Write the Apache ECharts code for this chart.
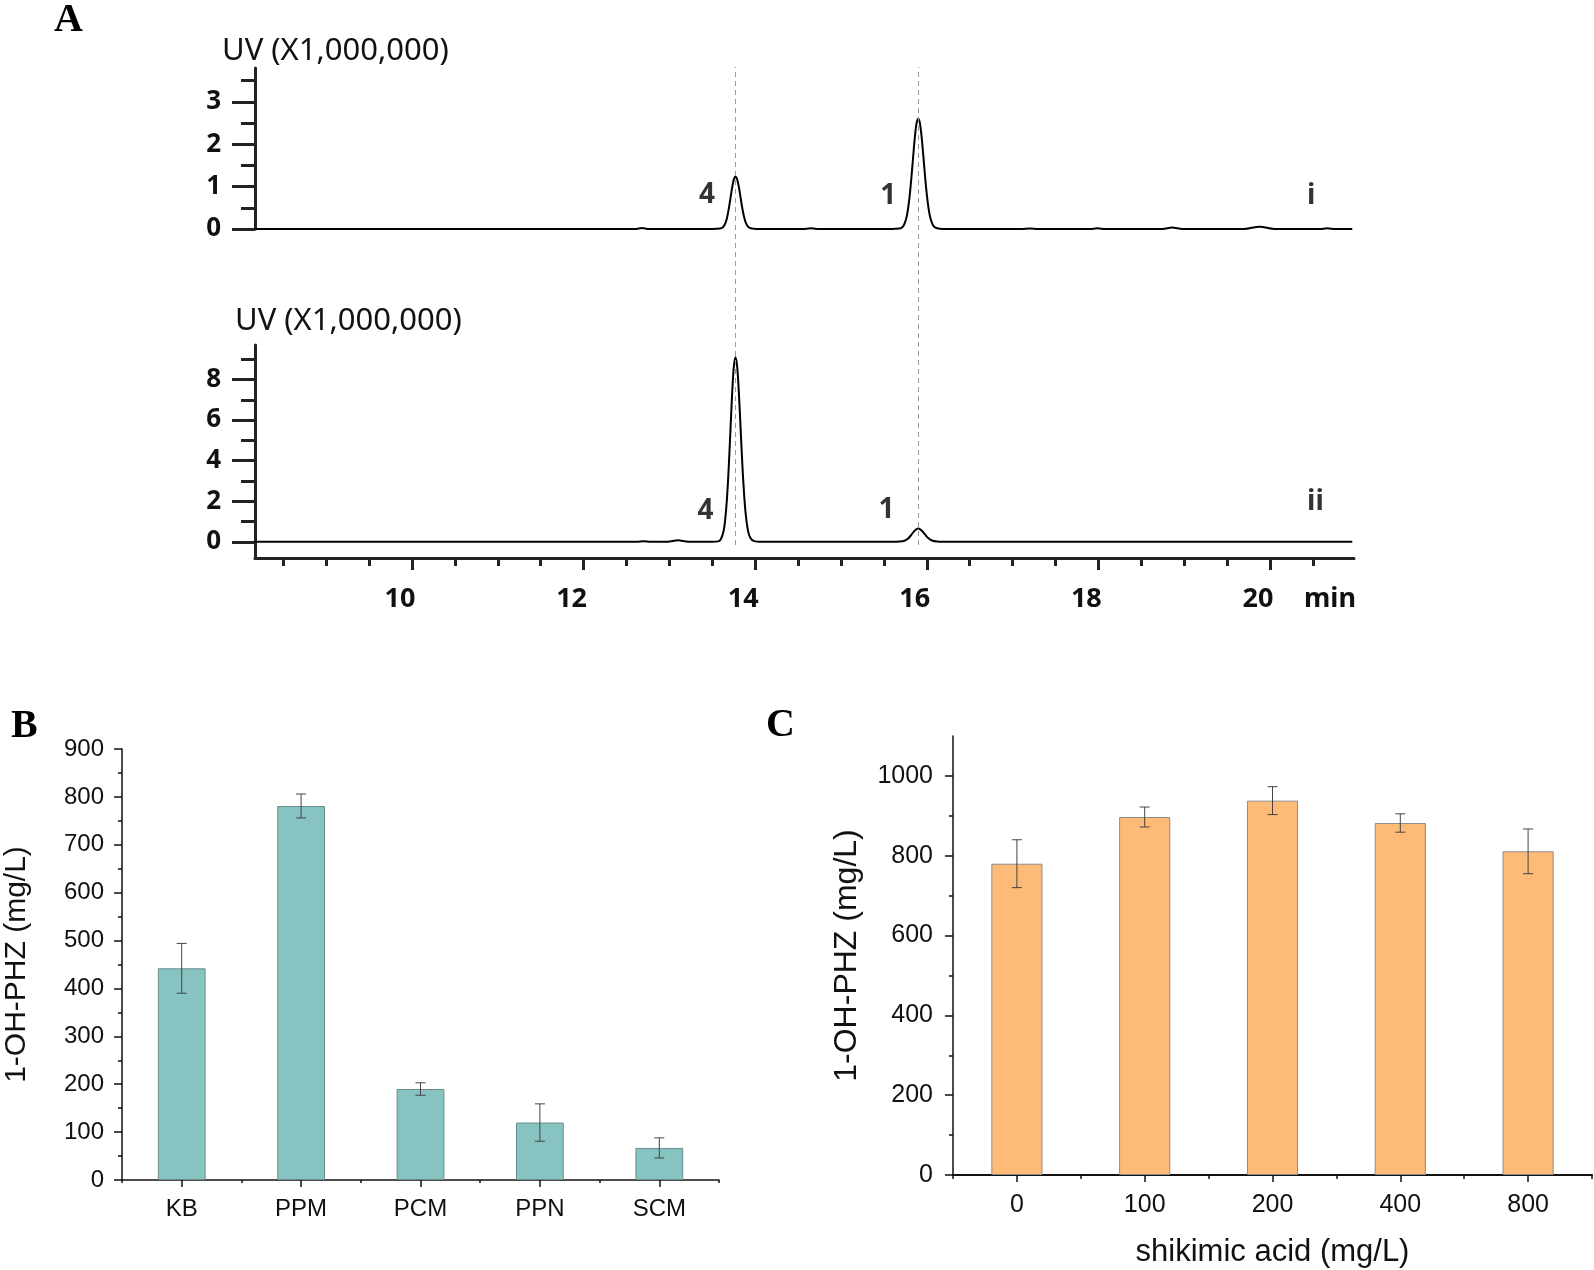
<!DOCTYPE html>
<html><head><meta charset="utf-8">
<script src="https://cdn.jsdelivr.net/npm/echarts@6/dist/echarts.min.js"></script>
<style>html,body{margin:0;padding:0;background:#fff}#c{width:1594px;height:1270px}</style>
</head><body><div id="c"></div>
<script>
// ---------- Panel A (chromatograms) ----------
const timeRange = [8.17, 20.98];
const timeTicks = [10, 12, 14, 16, 18, 20];
const timeMinorTicks = [8.5, 9, 9.5, 10.5, 11, 11.5, 12.5, 13, 13.5, 14.5, 15, 15.5, 16.5, 17, 17.5, 18.5, 19, 19.5, 20.5];
const timeUnitLabel = 'min';
const timeUnitAt = 20.84;
const uvTitle = 'UV (X1,000,000)';
const topYRange = [0, 3.8];
const topYTicks = [0, 1, 2, 3];
const topYMinorTicks = [0.5, 1.5, 2.5, 3.5];
const botYRange = [-0.8, 9.7];
const botYTicks = [0, 2, 4, 6, 8];
const botYMinorTicks = [1, 3, 5, 7, 9];

const traceI = [
  [8.17,0],[9.5,0],[11,0],[12.5,0],[12.6,0],[12.68,0.025],[12.76,0],[13.5,0],
  [13.59,0.01],[13.62,0.035],[13.65,0.125],[13.67,0.25],[13.69,0.45],[13.71,0.70],[13.73,0.96],[13.75,1.16],[13.77,1.24],[13.79,1.17],[13.81,0.99],[13.83,0.74],[13.85,0.49],[13.87,0.29],[13.89,0.15],[13.92,0.05],[13.96,0.01],[14.02,0],
  [14.55,0],[14.65,0.015],[14.75,0],
  [15.6,0],[15.68,0.01],[15.70,0.02],[15.73,0.075],[15.76,0.24],[15.78,0.45],[15.80,0.77],[15.82,1.19],[15.84,1.67],[15.86,2.14],[15.88,2.48],[15.90,2.6],[15.92,2.5],[15.94,2.18],[15.96,1.73],[15.98,1.25],[16.00,0.83],[16.02,0.5],[16.04,0.28],[16.07,0.1],[16.10,0.03],[16.15,0.005],[16.25,0],
  [17.1,0],[17.2,0.01],[17.3,0],[17.9,0],[17.99,0.015],[18.08,0],[18.75,0],[18.86,0.035],[18.98,0],[19.7,0],[19.88,0.055],[20.05,0],[20.58,0],[20.67,0.015],[20.76,0],[20.96,0]
];
const traceII = [
  [8.17,0],[9.5,0],[11,0],[12.5,0],[12.62,0],[12.7,0.03],[12.78,0],[12.98,0],[13.1,0.07],[13.22,0],[13.5,0],
  [13.57,0.02],[13.60,0.125],[13.63,0.49],[13.65,1.07],[13.67,2.05],[13.69,3.51],[13.71,5.33],[13.73,7.17],[13.75,8.57],[13.77,9.1],[13.79,8.65],[13.81,7.35],[13.83,5.6],[13.85,3.85],[13.87,2.4],[13.89,1.35],[13.91,0.7],[13.93,0.32],[13.96,0.1],[14.0,0.02],[14.05,0],
  [15.6,0],[15.68,0.01],[15.74,0.05],[15.78,0.15],[15.82,0.34],[15.86,0.55],[15.90,0.65],[15.94,0.56],[15.98,0.36],[16.02,0.17],[16.06,0.06],[16.12,0.01],[16.2,0],
  [18,0],[20,0],[20.96,0]
];
const peakLabelTextI = ['4', '1', 'i'];
const peakLabelXI = [13.44, 15.55, 20.48];
const peakLabelYI = [0.80, 0.78, 0.78];
const peakLabelTextII = ['4', '1', 'ii'];
const peakLabelXII = [13.42, 15.53, 20.53];
const peakLabelYII = [1.5, 1.55, 1.95];
const peakTimes = [13.77, 15.90];

// ---------- Panel B ----------
const bCategories = ['KB', 'PPM', 'PCM', 'PPN', 'SCM'];
const bValues = [442, 781, 190, 120, 67];
const bErrors = [52, 25, 13, 39, 21];
const bYName = '1-OH-PHZ (mg/L)';

// ---------- Panel C ----------
const cCategories = ['0', '100', '200', '400', '800'];
const cValues = [780, 897, 938, 882, 811];
const cErrors = [60, 25, 35, 23, 56];
const cYTicks = [0, 200, 400, 600, 800, 1000];
const cYMinorTicks = [100, 300, 500, 700, 900];
const cYName = '1-OH-PHZ (mg/L)';
const cXName = 'shikimic acid (mg/L)';

// ---------- styling ----------
const FA = "'Noto Sans', 'DejaVu Sans', sans-serif";
const FB = "'Liberation Sans', Arial, sans-serif";
const FS = "'Liberation Serif', 'Times New Roman', serif";
const DARK = '#222';

function errorRender(params, api) {
  const x = api.value(0), lo = api.value(1), hi = api.value(2);
  const t = api.coord([x, hi]);
  const b = api.coord([x, lo]);
  const h = 5;
  const st = { stroke: '#444', lineWidth: 1 };
  return { type: 'group', children: [
    { type: 'line', shape: { x1: t[0], y1: t[1], x2: b[0], y2: b[1] }, style: st },
    { type: 'line', shape: { x1: t[0]-h, y1: t[1], x2: t[0]+h, y2: t[1] }, style: st },
    { type: 'line', shape: { x1: b[0]-h, y1: b[1], x2: b[0]+h, y2: b[1] }, style: st }
  ]};
}

const hidden = { show: false };
function hiddenValueAxis(g, rng) {
  return { gridIndex: g, type: 'value', min: rng[0], max: rng[1], show: false };
}
const plain = v => String(v);
const aLabel = { fontFamily: FA, fontWeight: 'bold', fontSize: 27, color: '#111' };
const bLabel = { fontFamily: FB, fontSize: 24, color: '#111' };

const option = {
  animation: false,
  backgroundColor: '#fff',
  textStyle: { fontFamily: FB },
  title: [
    { text: 'A', left: 54, top: 1, padding: 0, textStyle: { fontFamily: FS, fontWeight: 'bold', fontSize: 40, color: '#000' } },
    { text: uvTitle, left: 222, top: 36, padding: 0, textStyle: { fontFamily: FA, fontWeight: 'normal', fontSize: 31, color: '#111' } },
    { text: uvTitle, left: 235, top: 306, padding: 0, textStyle: { fontFamily: FA, fontWeight: 'normal', fontSize: 31, color: '#111' } },
    { text: 'B', left: 11, top: 707, padding: 0, textStyle: { fontFamily: FS, fontWeight: 'bold', fontSize: 40, color: '#000' } },
    { text: 'C', left: 766, top: 706, padding: 0, textStyle: { fontFamily: FS, fontWeight: 'bold', fontSize: 40, color: '#000' } }
  ],
  grid: [
    { left: 255, top: 68, width: 1099, height: 161, outerBoundsMode: 'none' },
    { left: 255, top: 68, width: 1099, height: 161, outerBoundsMode: 'none' },
    { left: 255, top: 345, width: 1099, height: 213, outerBoundsMode: 'none' },
    { left: 255, top: 345, width: 1099, height: 213, outerBoundsMode: 'none' },
    { left: 255, top: 67, width: 1099, height: 478, outerBoundsMode: 'none' },
    { left: 122, top: 749, width: 597, height: 431, outerBoundsMode: 'none' },
    { left: 122, top: 749, width: 597, height: 431, outerBoundsMode: 'none' },
    { left: 953, top: 736, width: 639, height: 439, outerBoundsMode: 'none' },
    { left: 953, top: 736, width: 639, height: 439, outerBoundsMode: 'none' }
  ],
  xAxis: [
    hiddenValueAxis(0, timeRange),
    hiddenValueAxis(1, timeRange),
    { gridIndex: 2, type: 'value', min: timeRange[0], max: timeRange[1],
      axisLine: { show: true, onZero: false, lineStyle: { color: DARK, width: 3 } },
      axisTick: { show: true, customValues: timeTicks, length: 12, lineStyle: { color: DARK, width: 3 } },
      axisLabel: Object.assign({ show: true, customValues: timeTicks.concat([timeUnitAt]), margin: 28, padding: [0, 24, 0, 0],
        formatter: v => (Math.abs(v - timeUnitAt) < 1e-6 ? timeUnitLabel : String(v)) }, aLabel),
      splitLine: hidden, minorTick: hidden },
    { gridIndex: 3, type: 'value', min: timeRange[0], max: timeRange[1],
      axisLine: { show: false, onZero: false },
      axisTick: { show: true, customValues: timeMinorTicks, length: 8, lineStyle: { color: DARK, width: 3 } },
      axisLabel: hidden, splitLine: hidden },
    hiddenValueAxis(4, timeRange),
    { gridIndex: 5, type: 'category', data: bCategories,
      axisLine: { show: true, onZero: false, lineStyle: { color: '#111', width: 1.5 } },
      axisTick: { show: true, alignWithLabel: true, length: 7, lineStyle: { color: '#111', width: 1.5 } },
      axisLabel: Object.assign({ margin: 17 }, bLabel), splitLine: hidden },
    { gridIndex: 6, type: 'category', data: bCategories,
      axisLine: { show: false, onZero: false },
      axisTick: { show: true, length: 3, lineStyle: { color: '#111', width: 1.5 } },
      axisLabel: hidden, splitLine: hidden },
    { gridIndex: 7, type: 'category', data: cCategories,
      name: cXName, nameLocation: 'middle', nameGap: 62, nameMoveOverlap: false,
      nameTextStyle: { fontFamily: FB, fontSize: 31, color: '#111' },
      axisLine: { show: true, onZero: false, lineStyle: { color: '#111', width: 2 } },
      axisTick: { show: true, alignWithLabel: true, length: 7, lineStyle: { color: '#111', width: 1.5 } },
      axisLabel: Object.assign({ margin: 18 }, bLabel, { fontSize: 25 }), splitLine: hidden },
    { gridIndex: 8, type: 'category', data: cCategories,
      axisLine: { show: false, onZero: false },
      axisTick: { show: true, length: 4, lineStyle: { color: '#111', width: 1.5 } },
      axisLabel: hidden, splitLine: hidden }
  ],
  yAxis: [
    { gridIndex: 0, type: 'value', min: topYRange[0], max: topYRange[1],
      axisLine: { show: true, onZero: false, lineStyle: { color: DARK, width: 3 } },
      axisTick: { show: true, customValues: topYTicks, length: 23, lineStyle: { color: DARK, width: 3 } },
      axisLabel: Object.assign({ show: true, customValues: topYTicks, margin: 34, formatter: plain }, aLabel, { fontSize: 26 }),
      splitLine: hidden },
    { gridIndex: 1, type: 'value', min: topYRange[0], max: topYRange[1],
      axisLine: { show: false, onZero: false },
      axisTick: { show: true, customValues: topYMinorTicks, length: 14, lineStyle: { color: DARK, width: 3 } },
      axisLabel: hidden, splitLine: hidden },
    { gridIndex: 2, type: 'value', min: botYRange[0], max: botYRange[1],
      axisLine: { show: true, onZero: false, lineStyle: { color: DARK, width: 3 } },
      axisTick: { show: true, customValues: botYTicks, length: 23, lineStyle: { color: DARK, width: 3 } },
      axisLabel: Object.assign({ show: true, customValues: botYTicks, margin: 34, formatter: plain }, aLabel, { fontSize: 26 }),
      splitLine: hidden },
    { gridIndex: 3, type: 'value', min: botYRange[0], max: botYRange[1],
      axisLine: { show: false, onZero: false },
      axisTick: { show: true, customValues: botYMinorTicks, length: 14, lineStyle: { color: DARK, width: 3 } },
      axisLabel: hidden, splitLine: hidden },
    hiddenValueAxis(4, [0, 1]),
    { gridIndex: 5, type: 'value', min: 0, max: 900, interval: 100,
      name: bYName, nameLocation: 'middle', nameGap: 90, nameRotate: 90, nameMoveOverlap: false,
      nameTextStyle: { fontFamily: FB, fontSize: 30, color: '#111' },
      axisLine: { show: true, onZero: false, lineStyle: { color: '#111', width: 1.5 } },
      axisTick: { show: true, length: 8, lineStyle: { color: '#111', width: 1.5 } },
      minorTick: { show: true, splitNumber: 2, length: 4, lineStyle: { color: '#111', width: 1.5 } },
      axisLabel: Object.assign({ margin: 18, formatter: plain }, bLabel), splitLine: hidden, minorSplitLine: hidden },
    hiddenValueAxis(6, [0, 900]),
    { gridIndex: 7, type: 'value', min: 0, max: 1100,
      name: cYName, nameLocation: 'middle', nameGap: 90, nameRotate: 90, nameMoveOverlap: false,
      nameTextStyle: { fontFamily: FB, fontSize: 32, color: '#111' },
      axisLine: { show: true, onZero: false, lineStyle: { color: '#111', width: 1.5 } },
      axisTick: { show: true, customValues: cYTicks, length: 8, lineStyle: { color: '#111', width: 1.5 } },
      axisLabel: Object.assign({ customValues: cYTicks, margin: 20, formatter: plain }, bLabel, { fontSize: 25 }),
      splitLine: hidden },
    { gridIndex: 8, type: 'value', min: 0, max: 1100,
      axisLine: { show: false, onZero: false },
      axisTick: { show: true, customValues: cYMinorTicks, length: 4, lineStyle: { color: '#111', width: 1.5 } },
      axisLabel: hidden, splitLine: hidden }
  ],
  series: [
    { type: 'line', xAxisIndex: 0, yAxisIndex: 0, data: traceI, symbol: 'none', showSymbol: false,
      smooth: 0.3, clip: false, lineStyle: { color: '#000', width: 2 }, z: 3 },
    { type: 'line', xAxisIndex: 2, yAxisIndex: 2, data: traceII, symbol: 'none', showSymbol: false,
      smooth: 0.3, clip: false, lineStyle: { color: '#000', width: 2 }, z: 3 },
    { type: 'scatter', xAxisIndex: 0, yAxisIndex: 0, symbolSize: 1, itemStyle: { color: 'rgba(0,0,0,0)' },
      data: peakLabelTextI.map((t, i) => ({ name: t, value: [peakLabelXI[i], peakLabelYI[i]] })),
      label: { show: true, position: 'inside', formatter: '{b}', fontFamily: FA, fontWeight: 'bold', fontSize: 28, color: '#000' } },
    { type: 'scatter', xAxisIndex: 2, yAxisIndex: 2, symbolSize: 1, itemStyle: { color: 'rgba(0,0,0,0)' },
      data: peakLabelTextII.map((t, i) => ({ name: t, value: [peakLabelXII[i], peakLabelYII[i]] })),
      label: { show: true, position: 'inside', formatter: '{b}', fontFamily: FA, fontWeight: 'bold', fontSize: 28, color: '#000' } },
    { type: 'line', xAxisIndex: 4, yAxisIndex: 4, data: [[peakTimes[0], 0.5]], symbol: 'none', showSymbol: false,
      lineStyle: { opacity: 0 }, z: 1,
      markLine: { silent: true, symbol: ['none', 'none'], label: { show: false },
        lineStyle: { type: [5, 4], color: '#9a9a9a', width: 1 },
        data: peakTimes.map(t => ({ xAxis: t })) } },
    { type: 'bar', xAxisIndex: 5, yAxisIndex: 5, data: bValues, barWidth: '40%',
      itemStyle: { color: '#86c3c1', borderColor: '#6b8d8c', borderWidth: 1 } },
    { type: 'custom', xAxisIndex: 5, yAxisIndex: 5, renderItem: errorRender, z: 5,
      encode: { x: 0, y: [1, 2] },
      data: bValues.map((v, i) => [i, v - bErrors[i], v + bErrors[i]]) },
    { type: 'bar', xAxisIndex: 7, yAxisIndex: 7, data: cValues, barWidth: '40%',
      itemStyle: { color: '#fdbb77', borderColor: '#8c8c8c', borderWidth: 1 } },
    { type: 'custom', xAxisIndex: 7, yAxisIndex: 7, renderItem: errorRender, z: 5,
      encode: { x: 0, y: [1, 2] },
      data: cValues.map((v, i) => [i, v - cErrors[i], v + cErrors[i]]) }
  ]
};
const chart = echarts.init(document.getElementById('c'), null, { renderer: 'canvas' });
chart.setOption(option);
</script>
</body></html>
